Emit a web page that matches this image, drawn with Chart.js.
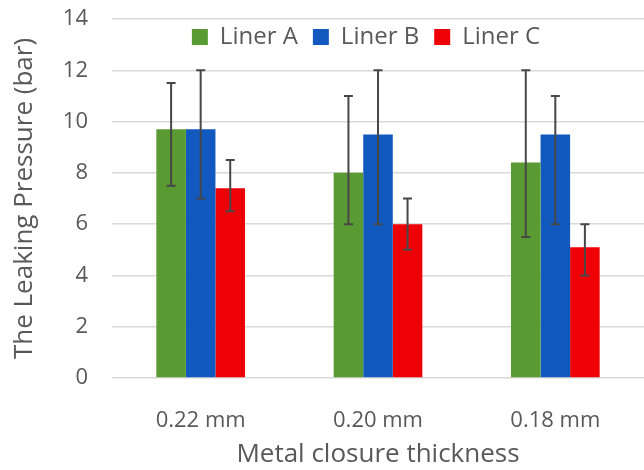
<!DOCTYPE html>
<html><head><meta charset="utf-8">
<script src="https://cdn.jsdelivr.net/npm/chart.js@4.4.0/dist/chart.umd.min.js"></script>
<style>html,body{margin:0;padding:0;background:#fff}#wrap{width:644px;height:470px}</style>
</head><body><div id="wrap"><canvas id="c" width="644" height="470"></canvas></div>
<script>
const categories = ['0.22 mm', '0.20 mm', '0.18 mm'];
const seriesNames = ['Liner A', 'Liner B', 'Liner C'];
const linerA = [9.7, 8.0, 8.4];
const linerB = [9.7, 9.5, 9.5];
const linerC = [7.4, 6.0, 5.1];
const linerALow = [7.5, 6.0, 5.5];
const linerAHigh = [11.5, 11.0, 12.0];
const linerBLow = [7.0, 6.0, 6.0];
const linerBHigh = [12.0, 12.0, 11.0];
const linerCLow = [6.5, 5.0, 4.0];
const linerCHigh = [8.5, 7.0, 6.0];
const yTicks = [0, 2, 4, 6, 8, 10, 12, 14];
const yTitle = 'The Leaking Pressure (bar)';
const xTitle = 'Metal closure thickness';

const FONT = "'Open Sans', sans-serif";
const TXT = '#595959';

const legendInPlot = {
  id: 'legendInPlot',
  beforeLayout(chart) {
    const lg = chart.legend;
    if (lg && !lg._patchedFit) {
      const orig = lg.fit;
      lg.fit = function () { orig.call(this); this._realHeight = this.height; this.height = 0; };
      lg._patchedFit = true;
    }
  },
  afterLayout(chart) {
    const lg = chart.legend;
    if (!lg) return;
    const cx = 366;
    const half = (lg.right - lg.left) / 2;
    lg.left = cx - half; lg.right = cx + half;
    lg.top = 10; lg.height = lg._realHeight; lg.bottom = lg.top + lg.height;
  }
};

const errorBars = {
  id: 'errorBars',
  afterDatasetsDraw(chart) {
    const ctx = chart.ctx, ys = chart.scales.y;
    chart.data.datasets.forEach((ds, i) => {
      const meta = chart.getDatasetMeta(i);
      meta.data.forEach((bar, j) => {
        const x = bar.x;
        const yl = ys.getPixelForValue(ds.errLow[j]);
        const yh = ys.getPixelForValue(ds.errHigh[j]);
        ctx.save();
        ctx.strokeStyle = '#474747';
        ctx.lineWidth = 2;
        ctx.beginPath();
        ctx.moveTo(x, yl); ctx.lineTo(x, yh);
        ctx.moveTo(x - 4.5, yl); ctx.lineTo(x + 4.5, yl);
        ctx.moveTo(x - 4.5, yh); ctx.lineTo(x + 4.5, yh);
        ctx.stroke();
        ctx.restore();
      });
    });
  }
};

new Chart(document.getElementById('c'), {
  type: 'bar',
  data: {
    labels: categories,
    datasets: [
      { label: seriesNames[0], data: linerA, errLow: linerALow, errHigh: linerAHigh, backgroundColor: '#5A9A32' },
      { label: seriesNames[1], data: linerB, errLow: linerBLow, errHigh: linerBHigh, backgroundColor: '#1259BF' },
      { label: seriesNames[2], data: linerC, errLow: linerCLow, errHigh: linerCHigh, backgroundColor: '#EE0007' }
    ]
  },
  options: {
    responsive: false,
    animation: false,
    devicePixelRatio: 1,
    layout: { padding: { left: 0, right: 0, top: 19, bottom: 0 } },
    datasets: { bar: { categoryPercentage: 0.5, barPercentage: 1.0, borderWidth: 0 } },
    plugins: {
      legend: {
        position: 'top',
        labels: { boxWidth: 16, boxHeight: 16, padding: 15, color: TXT, font: { family: FONT, size: 24 } }
      },
      tooltip: { enabled: false }
    },
    scales: {
      x: {
        grid: { display: false },
        border: { display: false },
        ticks: { color: TXT, padding: 22, font: { family: FONT, size: 22 } },
        title: { display: true, text: xTitle, color: TXT, font: { family: FONT, size: 26 }, padding: { top: 0, bottom: 0 } },
        afterFit: s => { s.height = 92; }
      },
      y: {
        min: 0, max: 14,
        afterBuildTicks: s => { s.ticks = yTicks.map(v => ({ value: v })); },
        grid: { color: '#d9d9d9', lineWidth: 1.5, drawTicks: false },
        border: { display: false },
        ticks: { color: TXT, padding: 24, font: { family: FONT, size: 22 } },
        title: { display: true, text: yTitle, color: TXT, font: { family: FONT, size: 26 }, padding: { top: 9, bottom: 0 } },
        afterFit: s => { s.width = 112; s.paddingTop = 0; s.paddingBottom = 0; }
      }
    }
  },
  plugins: [legendInPlot, errorBars]
});
</script>
</body></html>
